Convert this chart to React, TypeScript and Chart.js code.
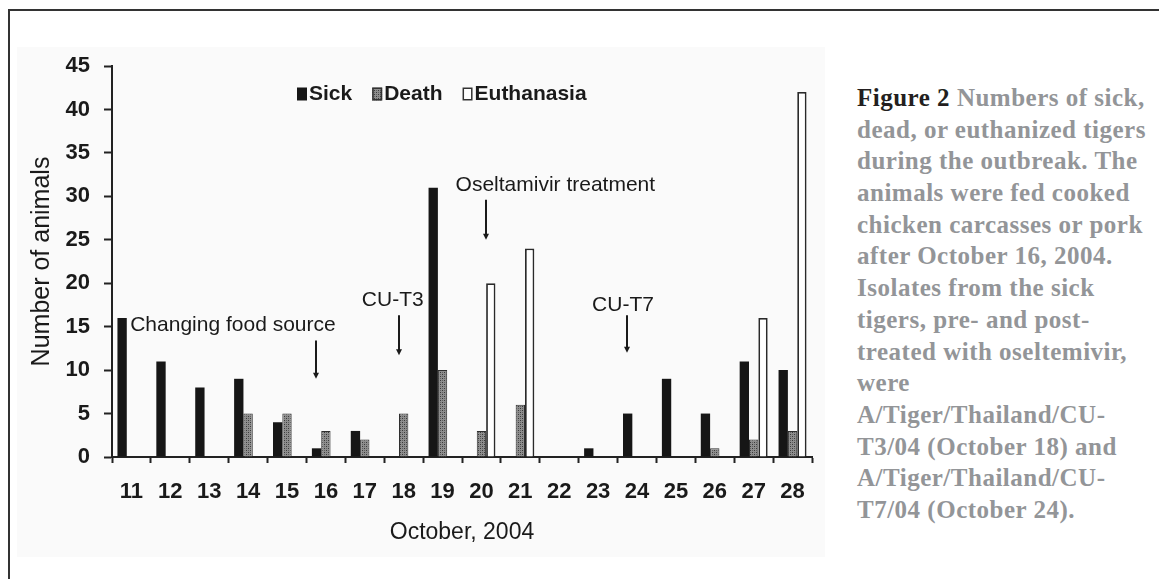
import React, { useEffect, useRef } from "react";
import { Chart, registerables } from "chart.js";

Chart.register(...registerables);

// ---------- data ----------
const days = ["11", "12", "13", "14", "15", "16", "17", "18", "19", "20", "21", "22", "23", "24", "25", "26", "27", "28"];
const sick = [16, 11, 8, 9, 4, 1, 3, 0, 31, 0, 0, 0, 1, 5, 9, 5, 11, 10];
const death = [0, 0, 0, 5, 5, 3, 2, 5, 10, 3, 6, 0, 0, 0, 0, 1, 2, 3];
const euthanasia = [0, 0, 0, 0, 0, 0, 0, 0, 0, 20, 24, 0, 0, 0, 0, 0, 16, 42];
const seriesNames = ["Sick", "Death", "Euthanasia"];
const yTitle = "Number of animals";
const xTitle = "October, 2004";

// annotations anchored in data units (category index, value)
const noteTexts = ["Changing food source", "CU-T3", "Oseltamivir treatment", "CU-T7"];
const noteTextX = [2.61, 6.72, 10.9, 12.64];
const noteTextY = [15.2, 18.0, 31.3, 17.5];
const arrowX = [4.74, 6.88, 9.11, 12.74];
const arrowFrom = [13.4, 16.3, 29.6, 16.3];
const arrowTo = [9.0, 11.7, 25.0, 12.0];

const captionLead = "Figure 2";
const captionLines = [
  " Numbers of sick,",
  "dead, or euthanized tigers",
  "during the outbreak. The",
  "animals were fed cooked",
  "chicken carcasses or pork",
  "after October 16, 2004.",
  "Isolates from the sick",
  "tigers, pre- and post-",
  "treated with oseltemivir,",
  "were",
  "A/Tiger/Thailand/CU-",
  "T3/04 (October 18) and",
  "A/Tiger/Thailand/CU-",
  "T7/04 (October 24).",
];

const SANS = "'Liberation Sans', Arial, Helvetica, sans-serif";
const NARROW = "'Liberation Sans Narrow', 'Arial Narrow', 'Liberation Sans', Arial, sans-serif";
const INK = "#1a1a1a";

function makeDeathPattern(): CanvasPattern | string {
  const c = document.createElement("canvas");
  c.width = 4;
  c.height = 4;
  const g = c.getContext("2d");
  if (!g) return "#777";
  g.fillStyle = "#8e8e8e";
  g.fillRect(0, 0, 4, 4);
  g.fillStyle = "#3a3a3a";
  g.fillRect(0, 0, 1, 1);
  g.fillRect(2, 2, 1, 1);
  g.fillStyle = "#606060";
  g.fillRect(2, 0, 1, 1);
  g.fillRect(0, 2, 1, 1);
  const p = g.createPattern(c, "repeat");
  return p || "#777";
}

const overlayPlugin = {
  id: "overlay",
  afterDatasetsDraw(chart: any) {
    const { ctx, chartArea } = chart;
    const xs = chart.scales.x;
    const ys = chart.scales.y;
    ctx.save();

    // legend
    ctx.font = `bold 21px ${SANS}`;
    ctx.textBaseline = "middle";
    ctx.textAlign = "left";
    let lx = chartArea.left + 185;
    const ly = chartArea.top + 28;
    chart.data.datasets.forEach((ds: any, i: number) => {
      ctx.fillStyle = ds.backgroundColor;
      ctx.fillRect(lx, ly - 6.5, 10, 13);
      if (i > 0) {
        ctx.strokeStyle = "#333";
        ctx.lineWidth = 1.5;
        ctx.strokeRect(lx + 0.75, ly - 5.75, 8.5, 11.5);
      }
      ctx.fillStyle = INK;
      ctx.fillText(ds.label, lx + 12, ly);
      lx += 12 + ctx.measureText(ds.label).width + 20;
    });

    // annotations
    ctx.font = `21px ${SANS}`;
    ctx.textAlign = "center";
    ctx.textBaseline = "middle";
    noteTexts.forEach((t, i) => {
      ctx.fillStyle = INK;
      ctx.fillText(t, xs.getPixelForValue(noteTextX[i]), ys.getPixelForValue(noteTextY[i]));
      const ax = Math.round(xs.getPixelForValue(arrowX[i]));
      const y0 = ys.getPixelForValue(arrowFrom[i]);
      const y1 = ys.getPixelForValue(arrowTo[i]);
      ctx.strokeStyle = INK;
      ctx.lineWidth = 2;
      ctx.beginPath();
      ctx.moveTo(ax, y0);
      ctx.lineTo(ax, y1 - 4);
      ctx.stroke();
      ctx.beginPath();
      ctx.moveTo(ax - 3, y1 - 6);
      ctx.lineTo(ax + 3, y1 - 6);
      ctx.lineTo(ax, y1);
      ctx.closePath();
      ctx.fill();
    });
    ctx.restore();
  },
};

export default function App() {
  const ref = useRef<HTMLCanvasElement>(null);

  useEffect(() => {
    if (!ref.current) return;
    const deathFill = makeDeathPattern();
    const bw = (w: number) => (c: any) => (c.raw > 0 ? w : 0);
    const chart = new Chart(ref.current, {
      type: "bar",
      data: {
        labels: days,
        datasets: [
          { label: seriesNames[0], data: sick, backgroundColor: "#161616", borderWidth: 0 },
          { label: seriesNames[1], data: death, backgroundColor: deathFill as any, borderColor: "#2e2e2e", borderWidth: bw(1) as any },
          { label: seriesNames[2], data: euthanasia, backgroundColor: "#ffffff", borderColor: "#2a2a2a", borderWidth: bw(1.8) as any },
        ],
      },
      options: {
        responsive: false,
        animation: false,
        devicePixelRatio: 1,
        events: [],
        layout: { padding: { top: 66, right: 18, bottom: 0, left: 0 } },
        datasets: { bar: { categoryPercentage: 0.72, barPercentage: 1 } },
        plugins: { legend: { display: false }, tooltip: { enabled: false } },
        scales: {
          x: {
            grid: { drawOnChartArea: false, drawTicks: true, tickLength: 6, tickWidth: 2, tickColor: "#222", offset: true },
            border: { display: true, color: "#222", width: 2 },
            ticks: { font: { size: 22, weight: "bold", family: NARROW }, color: INK, padding: 16, maxRotation: 0, autoSkip: false },
            title: { display: true, text: xTitle, font: { size: 23, family: SANS }, color: INK, padding: { top: 0, bottom: 33 } },
            afterFit: (s: any) => {
              s.height = 122;
            },
          } as any,
          y: {
            min: 0,
            max: 45,
            ticks: { stepSize: 5, font: { size: 22, weight: "bold", family: SANS }, color: INK, padding: 14 },
            grid: { drawOnChartArea: false, drawTicks: true, tickLength: 8, tickWidth: 2, tickColor: "#222" },
            border: { display: true, color: "#222", width: 2 },
            title: { display: true, text: yTitle, font: { size: 25, family: SANS }, color: INK, padding: { top: 27, bottom: 0 } },
            afterFit: (s: any) => {
              s.width = 112;
            },
          } as any,
        },
      },
      plugins: [overlayPlugin],
    });
    return () => chart.destroy();
  }, []);

  return (
    <div style={{ position: "absolute", left: 0, top: 0, width: 1159, height: 579, background: "#fff", overflow: "hidden" }}>
      <div style={{ position: "absolute", left: 17, top: 47, width: 808, height: 510, background: "#fafafa" }} />
      <div style={{ position: "absolute", left: 8, top: 9, right: 0, height: 2, background: "#333" }} />
      <div style={{ position: "absolute", left: 8, top: 9, width: 2, bottom: 0, background: "#333" }} />
      <canvas ref={ref} width={830} height={579} style={{ position: "absolute", left: 0, top: 0, width: 830, height: 579 }} />
      <div
        style={{
          position: "absolute",
          left: 857,
          top: 82,
          fontFamily: "'Liberation Serif', 'Times New Roman', serif",
          fontWeight: "bold",
          fontSize: 25,
          letterSpacing: "0.5px",
          color: "#939598",
          whiteSpace: "nowrap",
        }}
      >
        {captionLines.map((l, i) => (
          <div key={i} style={{ height: 31.7, lineHeight: "31.7px" }}>
            {i === 0 && <span style={{ color: "#231f20" }}>{captionLead}</span>}
            {l}
          </div>
        ))}
      </div>
    </div>
  );
}
